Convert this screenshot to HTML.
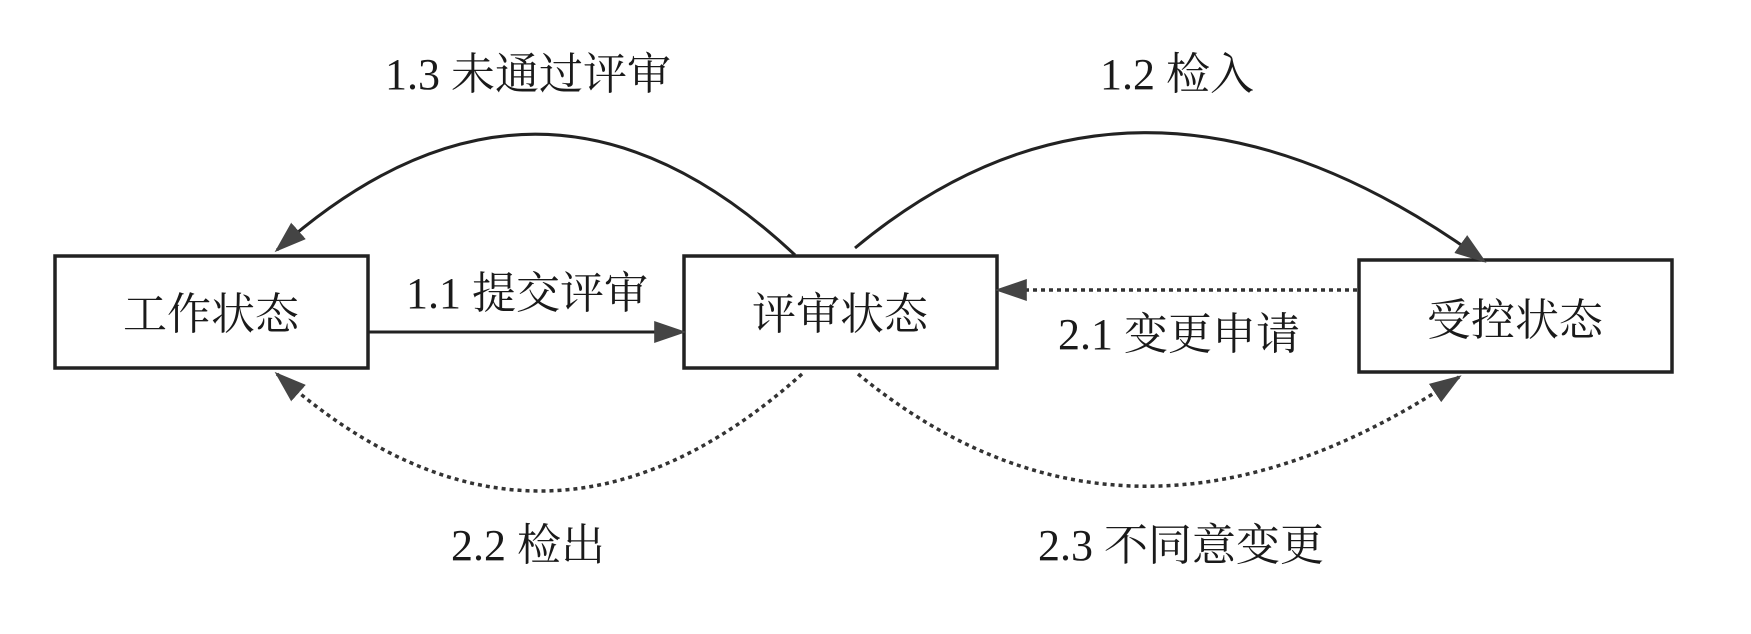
<!DOCTYPE html>
<html><head><meta charset="utf-8"><style>
html,body{margin:0;padding:0;background:#fff;}
svg{display:block;}
text{font-family:"Liberation Serif","Noto Serif CJK SC","Noto Sans CJK SC",serif;fill:#1a1a1a;}
</style></head><body>
<svg width="1751" height="634" viewBox="0 0 1751 634" xmlns="http://www.w3.org/2000/svg">
<defs>
<marker id="ahb" viewBox="0 0 10 10" refX="9" refY="5" markerWidth="32" markerHeight="22" markerUnits="userSpaceOnUse" orient="auto" preserveAspectRatio="none">
<path d="M0,0 L10,5 L0,10 z" fill="#444"/>
</marker>
</defs>
<g fill="#fff" stroke="#222" stroke-width="3.5">
<rect x="55" y="256" width="313" height="112"/>
<rect x="684" y="256" width="313" height="112"/>
<rect x="1359" y="260" width="313" height="112"/>
</g>
<g font-size="44" text-anchor="middle">
<text x="211" y="329">工作状态</text>
<text x="840" y="329">评审状态</text>
<text x="1515" y="335">受控状态</text>
</g>
<g fill="none" stroke="#222" stroke-width="3">
<path d="M369,332 L683,332" marker-end="url(#ahb)"/>
<path d="M795,255 Q540,16 277,250" marker-end="url(#ahb)"/>
<path d="M855,248 Q1140,11 1484,261" marker-end="url(#ahb)"/>
</g>
<g fill="none" stroke="#333" stroke-width="3.5" stroke-dasharray="4 4">
<path d="M1357,290 L998,290" marker-end="url(#ahb)"/>
<path d="M802,374 Q540,608 277,374" marker-end="url(#ahb)"/>
<path d="M858,374 Q1130,597 1459,377" marker-end="url(#ahb)"/>
</g>
<g font-size="44">
<text x="385" y="89">1.3 未通过评审</text>
<text x="1100" y="89">1.2 检入</text>
<text x="406" y="308">1.1 提交评审</text>
<text x="1058" y="349">2.1 变更申请</text>
<text x="451" y="560">2.2 检出</text>
<text x="1038" y="560">2.3 不同意变更</text>
</g>
</svg>
</body></html>
